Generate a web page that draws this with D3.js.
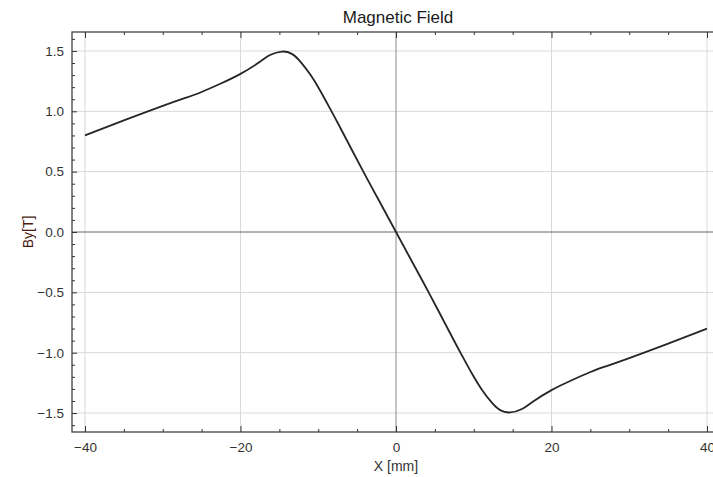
<!DOCTYPE html>
<html>
<head>
<meta charset="utf-8">
<script src="https://cdn.jsdelivr.net/npm/d3@7"></script>
<style>
  body { margin: 0; background: #fff; }
  svg { display: block; font-family: "Liberation Sans", Arial, sans-serif; }
</style>
</head>
<body>
<div id="chart"></div>
<script>
// field profile (left half read, right half mirrored by eye)
const xPos = [-40, -35, -30, -27, -25, -22.6, -20, -17.5, -16.2, -14.7, -13.4, -12.3, -11, -9.8, -8.5, -7.2, -4.2, -2, 0,
              2, 4.2, 7.2, 8.5, 9.8, 11, 12.3, 13.4, 14.7, 16.2, 17.5, 20, 22.6, 25, 27, 30, 35, 40];
const byVals = [0.80, 0.925, 1.045, 1.113, 1.16, 1.228, 1.31, 1.41, 1.466, 1.495, 1.476, 1.412, 1.302, 1.177, 1.025, 0.868, 0.50, 0.238, 0,
                -0.238, -0.50, -0.868, -1.025, -1.177, -1.302, -1.412, -1.476, -1.495, -1.466, -1.41, -1.31, -1.228, -1.16, -1.113, -1.045, -0.925, -0.80];
const xTicks = [-40, -20, 0, 20, 40];
const yTicks = [-1.5, -1.0, -0.5, 0.0, 0.5, 1.0, 1.5];

const W = 713, H = 477;
const margin = {top: 32, right: -7, bottom: 45, left: 72};
const width = W - margin.left - margin.right,
      height = H - margin.top - margin.bottom;

const svg = d3.select("#chart").append("svg")
    .attr("width", W)
    .attr("height", H);

const g = svg.append("g")
    .attr("transform", "translate(" + margin.left + "," + margin.top + ")");

const x = d3.scaleLinear().domain([-41.67, 41.67]).range([0, width]);
const y = d3.scaleLinear().domain([-1.657, 1.657]).range([height, 0]);

// grid
g.selectAll(".gx").data(xTicks.filter(d => d !== 0)).enter().append("line")
    .attr("x1", d => x(d)).attr("x2", d => x(d))
    .attr("y1", 0).attr("y2", height)
    .attr("stroke", "#d9d9d9").attr("stroke-width", 1);
g.selectAll(".gy").data(yTicks.filter(d => d !== 0)).enter().append("line")
    .attr("x1", 0).attr("x2", width)
    .attr("y1", d => y(d)).attr("y2", d => y(d))
    .attr("stroke", "#d9d9d9").attr("stroke-width", 1);

// zero axes
g.append("line").attr("x1", x(0)).attr("x2", x(0)).attr("y1", 0).attr("y2", height)
    .attr("stroke", "#8a8a8a").attr("stroke-width", 1);
g.append("line").attr("x1", 0).attr("x2", width).attr("y1", y(0)).attr("y2", y(0))
    .attr("stroke", "#666").attr("stroke-width", 1);

// curve
const line = d3.line()
    .curve(d3.curveNatural)
    .x((d, i) => x(xPos[i]))
    .y(d => y(d));

g.append("path")
    .attr("d", line(byVals))
    .attr("fill", "none")
    .attr("stroke", "#262626")
    .attr("stroke-width", 1.8);

// frame axes with inward ticks
const fmtY = d3.format(".1f");
const xMinor = d3.range(-40, 41, 5).filter(d => d % 20 !== 0);
const yMinor = d3.range(-16, 17, 1).map(d => d / 10).filter(d => Math.round(d * 10) % 5 !== 0);

function styleAxis(sel) {
  sel.select(".domain").remove();
  sel.selectAll(".tick line").attr("stroke", "#333");
  sel.selectAll(".tick text").attr("fill", "#333").style("font-size", "13.5px");
}

g.append("g").attr("transform", "translate(0," + height + ")")
    .call(d3.axisBottom(x).tickValues(xTicks).tickSizeInner(-6).tickPadding(10))
    .call(styleAxis);
g.append("g").attr("transform", "translate(0," + height + ")")
    .call(d3.axisBottom(x).tickValues(xMinor).tickSizeInner(-3).tickFormat(""))
    .call(styleAxis);
g.append("g")
    .call(d3.axisTop(x).tickValues(xTicks).tickSizeInner(-6).tickFormat(""))
    .call(styleAxis);
g.append("g")
    .call(d3.axisTop(x).tickValues(xMinor).tickSizeInner(-3).tickFormat(""))
    .call(styleAxis);
g.append("g")
    .call(d3.axisLeft(y).tickValues(yTicks).tickSizeInner(-5).tickPadding(8).tickFormat(fmtY))
    .call(styleAxis);
g.append("g")
    .call(d3.axisLeft(y).tickValues(yMinor).tickSizeInner(-3).tickFormat(""))
    .call(styleAxis);

g.append("rect")
    .attr("width", width).attr("height", height)
    .attr("fill", "none").attr("stroke", "#333").attr("stroke-width", 1.2);

// labels
svg.append("text")
    .attr("x", 398).attr("y", 23)
    .attr("text-anchor", "middle")
    .style("font-size", "17px").attr("fill", "#1a1a1a")
    .text("Magnetic Field");

svg.append("text")
    .attr("x", 396).attr("y", 471)
    .attr("text-anchor", "middle")
    .style("font-size", "14px").attr("fill", "#333")
    .text("X [mm]");

svg.append("text")
    .attr("transform", "translate(33," + (y(0) + margin.top) + ") rotate(-90)")
    .attr("text-anchor", "middle")
    .style("font-size", "14px").attr("fill", "#4a1a14")
    .text("By[T]");
</script>
</body>
</html>
